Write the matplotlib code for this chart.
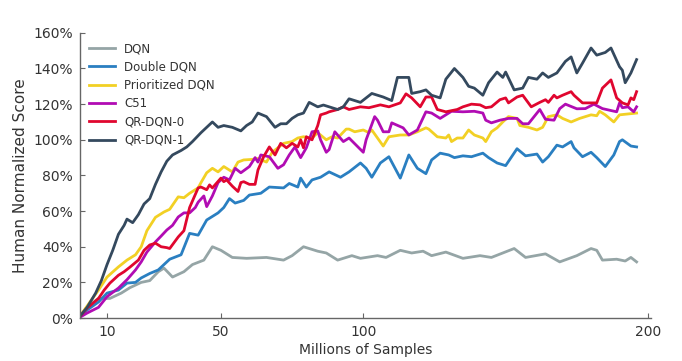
import matplotlib
matplotlib.use("Agg")
import matplotlib.pyplot as plt
from matplotlib.ticker import FuncFormatter


# values (millions of samples, % human normalized)
dqn_x = [0, 3, 7, 11, 15, 18, 22, 25, 28, 30,
         33, 37, 40, 44, 47, 50, 54, 59, 66, 72,
         75, 79, 84, 87, 91, 96, 99, 105, 108, 113,
         117, 121, 124, 129, 135, 141, 145, 153, 157, 164,
         169, 175, 180, 182, 184, 189, 192, 194, 196]
dqn_y = [0, 6, 11, 11, 14, 17, 20, 21, 26, 28,
         23, 26, 30, 32.5, 40, 38, 34, 33.5, 34, 32.5,
         35, 40, 37.5, 36.5, 32.5, 35, 33.5, 35, 34, 38,
         36.5, 37.5, 35, 37, 33.5, 35, 34, 39, 34, 36,
         31.5, 35, 39, 38, 32.5, 33, 32, 34, 31.5]

ddqn_x = [0, 3, 7, 10, 14, 17, 20, 22, 25, 28,
          30, 32, 36, 39, 42, 45, 49, 51, 53, 55,
          58, 60, 64, 67, 72, 74, 77, 78, 80, 82,
          85, 88, 92, 95, 99, 101, 103, 106, 109, 113,
          116, 119, 122, 124, 127, 130, 132, 135, 138, 142,
          144, 147, 150, 154, 157, 161, 163, 165, 168, 170,
          173, 174, 177, 180, 182, 185, 188, 190, 191, 194,
          196]
ddqn_y = [0, 4.5, 9, 14, 15.7, 19.6, 20, 22.5, 25, 27,
          30, 33, 35.5, 47.5, 46.5, 55, 59, 62, 67, 64.5,
          66, 69, 70, 73.5, 73, 75.5, 73.5, 78.5, 73.5, 77.5,
          79, 82, 79, 82, 87, 84, 79, 87, 90.5, 78.5,
          91.5, 84, 81, 88.7, 92.5, 91.5, 90, 91, 90.5, 92.5,
          90, 87, 85.5, 95, 91, 92, 87.5, 90.5, 97, 96,
          99, 95.5, 90.5, 93, 90, 85, 91.5, 99, 100, 96.5,
          96]

per_x = [0, 4, 7, 10, 14, 17, 20, 22, 24, 26,
         27, 29, 30, 32, 35, 37, 39, 42, 43, 45,
         47, 49, 51, 54, 56, 58, 61, 63, 66, 68,
         72, 75, 77, 79, 82, 84, 87, 89, 91, 94,
         95, 97, 100, 102, 103, 107, 109, 113, 116, 119,
         122, 123, 126, 129, 130, 131, 133, 135, 137, 139,
         142, 143, 145, 147, 149, 151, 154, 155, 158, 161,
         163, 165, 168, 170, 173, 176, 180, 182, 183, 185,
         188, 190, 193, 196]
per_y = [0, 9, 15.7, 23, 28.7, 32.5, 35.5, 40, 49, 54,
         56.5, 58.5, 59.5, 61, 68, 67.5, 70, 73, 76, 81.5,
         84, 82, 85, 82, 87.5, 88.7, 89, 89.5, 87.5, 93,
         98, 99, 101, 101.7, 101, 104, 100, 101.7, 101, 106,
         106, 104.5, 105.5, 104, 105.5, 96.5, 101.7, 102.7, 102.7, 104.5,
         106.7, 106, 101.7, 101, 102.7, 99, 101, 101, 105.5, 102.7,
         101, 99, 104.5, 106.7, 110, 113, 112, 108, 107, 105.5,
         107, 113, 114, 112, 110, 112, 114, 113.5, 116, 114,
         110, 114, 114.5, 115]

c51_x = [0, 3, 7, 10, 14, 17, 20, 22, 24, 27,
         29, 31, 33, 35, 37, 39, 41, 42, 44, 45,
         47, 49, 51, 53, 55, 57, 60, 62, 63, 64,
         67, 70, 72, 74, 76, 78, 80, 82, 84, 85,
         87, 88, 90, 93, 95, 100, 101, 104, 105, 107,
         109, 110, 114, 116, 119, 122, 124, 127, 129, 131,
         135, 139, 142, 143, 145, 148, 151, 154, 156, 158,
         162, 164, 167, 169, 171, 175, 178, 181, 184, 189,
         190, 191, 193, 195, 196]
c51_y = [0, 2.8, 6, 12, 16.8, 21.5, 27, 31.5, 37, 42.7,
         46, 49.4, 52, 56.7, 59, 59, 62, 65, 68.5, 62.5,
         68.5, 76, 79, 77.5, 84, 81.5, 85, 90, 87.5, 91.5,
         90.5, 84, 86, 91.5, 96, 90, 95.5, 104.5, 105, 100,
         93, 94.5, 104.5, 99, 101, 93, 100, 113, 111, 104.5,
         104.5, 109.5, 106.7, 102.7, 105.5, 115.7, 115, 112, 114, 116,
         115.7, 116, 115, 111, 109.5, 111, 112, 112, 109, 109,
         117, 111.5, 111, 117.5, 120, 117.4, 117.5, 120, 117.5, 115.7,
         120.7, 118, 118.5, 115.7, 118.5]

qr0_x = [0, 3, 7, 9, 11, 14, 16, 18, 21, 23,
         25, 27, 29, 31, 32, 35, 37, 39, 42, 43,
         45, 46, 47, 50, 51, 52, 54, 56, 57, 58,
         60, 62, 63, 65, 67, 69, 71, 73, 75, 77,
         78, 79, 80, 82, 84, 85, 87, 88, 91, 93,
         95, 99, 102, 106, 109, 113, 115, 117, 120, 122,
         124, 126, 129, 133, 135, 138, 141, 143, 145, 148,
         150, 151, 154, 156, 159, 162, 164, 165, 167, 168,
         170, 173, 174, 177, 180, 182, 184, 187, 189, 191,
         193, 194, 195, 196]
qr0_y = [0, 5.6, 11, 15.7, 19.6, 24, 26, 28.5, 32.5, 38,
         41, 42, 40, 39.5, 39, 45.5, 49, 62, 73, 73.5,
         72, 74.7, 73, 78.5, 76.5, 77.5, 74, 71, 76, 76.5,
         75, 75, 83, 90.5, 96, 91.5, 98, 95.5, 98, 96,
         100, 95.5, 101.7, 100, 108, 114, 115, 115.7, 117, 118.5,
         117, 118.5, 118, 119.6, 118.5, 120.7, 125.8, 123.5, 118.5, 124,
         124, 117, 115.7, 117, 118.5, 120, 119.6, 118, 118.5, 122.5,
         123.5, 120.7, 124, 125, 118.5, 121, 122.5, 121, 125, 123.5,
         125, 127, 125, 120.7, 120.7, 120.7, 129, 133.6, 123.5, 120.7,
         119.6, 123.5, 122.5, 127]

qr1_x = [0, 3, 6, 8, 10, 12, 14, 16, 17, 19,
         21, 23, 25, 27, 29, 31, 33, 36, 38, 40,
         43, 45, 47, 49, 51, 54, 57, 59, 61, 63,
         66, 69, 71, 73, 75, 77, 79, 81, 84, 86,
         88, 91, 93, 95, 99, 103, 107, 110, 112, 114,
         116, 117, 120, 122, 124, 127, 129, 132, 135, 137,
         139, 142, 144, 147, 149, 150, 153, 156, 158, 161,
         163, 165, 168, 171, 173, 175, 177, 180, 182, 185,
         187, 190, 191, 192, 194, 196]
qr1_y = [0, 6, 14, 21, 30, 38, 47, 52, 55.5, 53.5,
         58, 64, 67, 75, 82, 88, 91.5, 94, 96, 99,
         104, 107, 110, 107, 108, 107, 105, 108, 110, 115,
         113, 107, 109, 109, 112, 114, 115, 121, 118.5, 119.5,
         118.5, 117, 118.5, 123, 121, 126, 124, 122, 135, 135,
         135, 126, 127, 128, 125, 123.5, 134, 140, 135, 130,
         129, 125, 132, 138, 135, 138, 128, 129, 135, 134,
         137.5, 135, 137.5, 144, 146.5, 137.5, 143, 151.5, 147.5, 149,
         151.5, 141, 139, 132, 137.5, 145]

labels = ["DQN", "Double DQN", "Prioritized DQN", "C51", "QR-DQN-0", "QR-DQN-1"]
colors = ["#95a5a6", "#2a7fc1", "#f2d024", "#b10cb3", "#e0062f", "#34495e"]
x_ticks = [10, 50, 100, 200]
y_ticks = [0, 20, 40, 60, 80, 100, 120, 140, 160]

INK = "#333333"
AXIS = "#666666"


def main():
    fig = plt.figure(figsize=(6.82, 3.61), dpi=100)
    ax = fig.add_axes([0.1173, 0.119, 0.837, 0.790])

    series = [(dqn_x, dqn_y), (ddqn_x, ddqn_y), (per_x, per_y),
              (c51_x, c51_y), (qr0_x, qr0_y), (qr1_x, qr1_y)]
    for (xs, ys), label, color in zip(series, labels, colors):
        ax.plot(xs, ys, color=color, lw=2.0, label=label, solid_joinstyle="round")

    ax.set_xlim(0.5, 201)
    ax.set_ylim(0, 160)
    ax.set_xticks(x_ticks)
    ax.set_yticks(y_ticks)
    ax.yaxis.set_major_formatter(FuncFormatter(lambda v, _: f"{v:.0f}%"))

    for side in ("top", "right"):
        ax.spines[side].set_visible(False)
    for side in ("left", "bottom"):
        ax.spines[side].set_color(AXIS)
        ax.spines[side].set_linewidth(1.0)
    ax.tick_params(direction="in", length=3.5, width=0.8, color=AXIS,
                   labelcolor=INK, labelsize=10, pad=5)

    ax.set_xlabel("Millions of Samples", fontsize=10, color=INK, labelpad=3)
    ax.set_ylabel("Human Normalized Score", fontsize=11, color=INK, labelpad=4)

    ax.legend(loc="upper left", bbox_to_anchor=(0.0, 1.0), frameon=False,
              fontsize=8.5, handlelength=2.2, handletextpad=0.75,
              labelspacing=0.45, borderaxespad=0.4, labelcolor=INK)

    fig.savefig("out.png", dpi=100)
    plt.close(fig)


if __name__ == "__main__":
    main()
